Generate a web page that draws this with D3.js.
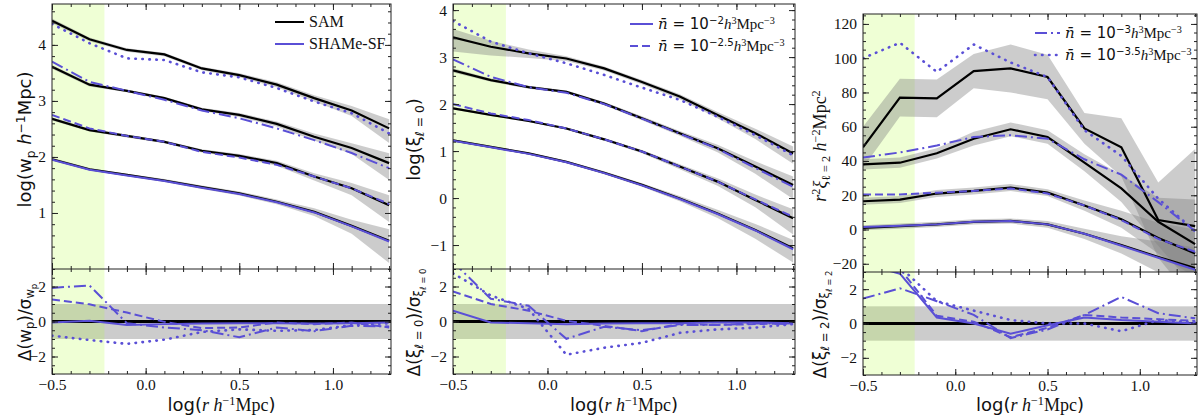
<!DOCTYPE html>
<html>
<head>
<meta charset="utf-8">
<script src="https://cdn.jsdelivr.net/npm/d3@7"></script>
<style>
  body { margin: 0; background: #fff; }
  svg text { fill: #111; }
</style>
</head>
<body>
<svg id="fig" width="1200" height="419"></svg>
<script>
// separation bins, log(r / h^-1 Mpc)
const logr = [-0.5, -0.3, -0.1, 0.1, 0.3, 0.5, 0.7, 0.9, 1.1, 1.3]
const xTicks = [-0.5, 0.0, 0.5, 1.0]
const cutR = -0.22

// rows go n=1e-2, 1e-2.5, 1e-3, 1e-3.5 (bottom curve to top curve)
const wpSam = [
	[1.96, 1.78, 1.68, 1.58, 1.46, 1.35, 1.20, 1.02, 0.77, 0.505],
	[2.68, 2.48, 2.375, 2.27, 2.11, 2.02, 1.89, 1.65, 1.44, 1.14],
	[3.61, 3.29, 3.18, 3.05, 2.85, 2.75, 2.59, 2.36, 2.16, 1.89],
	[4.43, 4.10, 3.91, 3.83, 3.58, 3.46, 3.29, 3.05, 2.83, 2.51]
]
const wpSham = [
	[1.95, 1.77, 1.67, 1.57, 1.45, 1.34, 1.19, 1.01, 0.76, 0.49],
	[2.75, 2.51, 2.375, 2.27, 2.09, 1.99, 1.86, 1.65, 1.44, 1.16],
	[3.70, 3.34, 3.18, 3.02, 2.83, 2.69, 2.51, 2.30, 2.07, 1.80],
	[4.375, 4.03, 3.76, 3.73, 3.51, 3.42, 3.23, 2.99, 2.78, 2.42]
]
// fractional error of the SAM measurement
const wpErr = [
	[0.06, 0.05, 0.05, 0.06, 0.07, 0.08, 0.10, 0.16, 0.28, 0.6],
	[0.07, 0.06, 0.06, 0.06, 0.07, 0.08, 0.10, 0.15, 0.25, 0.5],
	[0.08, 0.07, 0.06, 0.06, 0.07, 0.08, 0.10, 0.14, 0.22, 0.5],
	[0.10, 0.08, 0.07, 0.07, 0.07, 0.08, 0.10, 0.13, 0.20, 0.45]
]
const wpDev = [
	[-0.06, 0.04, -0.2, -0.15, -0.12, -0.1, -0.1, -0.12, -0.1, -0.06],
	[1.26, 0.98, 0.51, -0.02, -0.38, -0.34, -0.06, -0.15, -0.06, -0.34],
	[1.92, 2.06, -0.1, -0.34, -0.5, -0.9, -0.34, -0.55, -0.25, -0.28],
	[-0.81, -1.06, -1.28, -1.04, -0.6, -0.45, -0.53, -0.49, -0.21, -0.1]
]

const xi0Sam = [
	[1.23, 1.09, 0.95, 0.77, 0.54, 0.28, -0.01, -0.33, -0.68, -1.07],
	[1.91, 1.77, 1.64, 1.48, 1.25, 0.99, 0.67, 0.35, -0.04, -0.43],
	[2.72, 2.51, 2.36, 2.26, 2.01, 1.70, 1.38, 1.06, 0.67, 0.28],
	[3.42, 3.22, 3.08, 2.97, 2.76, 2.47, 2.16, 1.77, 1.38, 0.95]
]
const xi0Sham = [
	[1.22, 1.08, 0.94, 0.76, 0.53, 0.27, -0.02, -0.34, -0.69, -1.09],
	[2.0, 1.80, 1.66, 1.48, 1.25, 0.99, 0.67, 0.35, -0.03, -0.40],
	[2.95, 2.58, 2.36, 2.24, 2.0, 1.69, 1.37, 1.05, 0.64, 0.24],
	[3.77, 3.33, 3.08, 2.87, 2.62, 2.35, 2.09, 1.73, 1.34, 0.91]
]
const xi0Err = [
	[0.05, 0.05, 0.05, 0.06, 0.07, 0.09, 0.13, 0.2, 0.35, 0.5],
	[0.06, 0.05, 0.05, 0.06, 0.07, 0.08, 0.12, 0.18, 0.3, 0.55],
	[0.10, 0.08, 0.07, 0.07, 0.08, 0.10, 0.12, 0.18, 0.3, 0.5],
	[0.50, 0.35, 0.2, 0.12, 0.1, 0.1, 0.12, 0.15, 0.25, 0.4]
]
const xi0Dev = [
	[0.62, -0.06, -0.1, -0.15, -0.12, -0.1, -0.1, -0.05, -0.05, -0.1],
	[1.72, 1.0, 0.62, 0.04, -0.25, -0.55, -0.15, -0.2, -0.15, -0.1],
	[3.4, 1.3, 0.9, -0.99, -0.3, -0.5, -0.2, -0.2, -0.1, -0.15],
	[2.75, 1.49, 0.72, -1.9, -1.5, -1.22, -0.65, -0.45, -0.35, -0.15]
]

const xi2Sam = [
	[1, 2, 3, 4.5, 5, 3, -2.5, -9, -16, -22.5],
	[16.5, 17.5, 21, 22.5, 24.5, 21.5, 14, 6, -5, -14],
	[38, 39, 44.5, 53, 58.5, 54, 39, 24, 4.5, -8.5],
	[48, 77, 76.5, 92.5, 94, 89, 59, 48, 5.5, 2]
]
const xi2Sham = [
	[1.5, 2.2, 3, 4.5, 5, 3, -2.5, -9.5, -16.5, -23.5],
	[20.5, 20.5, 21.5, 22.5, 24, 21, 14, 5.5, -5.5, -13],
	[42, 45, 49, 54, 55, 53, 41, 32, 16, -1],
	[100, 109, 92, 108, 97.5, 89, 58, 43, 18, -1]
]
// absolute error
const xi2Err = [
	[1.5, 1.5, 1.5, 1.5, 1.5, 2, 3, 5, 9, 12],
	[2, 2, 2, 2, 2, 2, 3, 5, 9, 14],
	[3, 3, 3, 4, 4, 4, 5, 8, 14, 26],
	[12, 11, 11, 10, 14, 13, 9, 17, 22, 45]
]
const xi2Dev = [
	[3.5, 2.9, 0.35, 0.0, -0.6, -0.1, 0.35, 0.2, 0.1, 0.0],
	[3.6, 3.2, 0.45, 0.1, -0.8, -0.25, 0.5, 0.35, 0.25, 0.15],
	[1.45, 2.05, 1.3, 0.5, -0.85, -0.35, 0.5, 1.55, 0.6, 0.3],
	[3.6, 3.3, 1.3, 0.75, 0.2, 0.0, 0.0, -0.45, 0.2, 0.05]
]

const blue = "#5a4fd6"
const dashes = [null, "8,4", "12,4,2,4", "0.5,6.5"]
const widths = [2, 2, 2, 2.6]
const sans = "DejaVu Sans"
const serif = "Liberation Serif"

const svg = d3.select("#fig")

// very small mathtext: parts with sup / sub / sub2 and italic flags
function rich(text, parts, size) {
	let shift = 0
	parts.forEach(p => {
		let s = 0, k = 1
		if (p.sup) { s = -0.36; k = 0.68 }
		if (p.sub) { s = 0.2; k = 0.68 }
		if (p.sub2) { s = 0.36; k = 0.5 }
		const ts = text.append("tspan").text(p.t)
			.attr("dy", ((s - shift) * size).toFixed(2) + "px")
			.attr("font-size", (size * k) + "px")
			.attr("font-family", p.f || sans)
		if (p.it) ts.attr("font-style", "italic")
		shift = s
	})
}

let clipId = 0
function clip(x0, y0, w, h) {
	const id = "c" + (clipId++)
	svg.append("clipPath").attr("id", id).append("rect")
		.attr("x", x0).attr("y", y0).attr("width", w).attr("height", h)
	return "url(#" + id + ")"
}

function panel(cfg) {
	const x = d3.scaleLinear().domain([-0.5, 1.31]).range([cfg.left, cfg.right])
	const y = d3.scaleLinear().domain(cfg.yDom).range([cfg.mid, cfg.top])
	const yd = d3.scaleLinear().domain([-3, 3]).range([cfg.bottom, cfg.mid])
	const w = cfg.right - cfg.left

	// ---- upper axes
	const up = svg.append("g").attr("clip-path", clip(cfg.left, cfg.top, w, cfg.mid - cfg.top))
	up.append("rect")
		.attr("x", x(-0.5)).attr("y", cfg.top)
		.attr("width", x(cutR) - x(-0.5)).attr("height", cfg.mid - cfg.top)
		.attr("fill", "#adff2f").attr("fill-opacity", 0.2)

	cfg.sam.forEach((row, i) => {
		const area = d3.area()
			.x((d, j) => x(logr[j]))
			.y0((d, j) => y(cfg.lo(d, cfg.err[i][j])))
			.y1((d, j) => y(cfg.hi(d, cfg.err[i][j])))
		up.append("path").datum(row).attr("d", area)
			.attr("fill", "#808080").attr("fill-opacity", 0.4)
	})
	const line = d3.line().x((d, j) => x(logr[j])).y(d => y(d))
	cfg.sam.forEach(row => {
		up.append("path").datum(row).attr("d", line)
			.attr("fill", "none").attr("stroke", "#000").attr("stroke-width", 2.2)
	})
	cfg.sham.forEach((row, i) => {
		up.append("path").datum(row).attr("d", line)
			.attr("fill", "none").attr("stroke", blue).attr("stroke-width", widths[i])
			.attr("stroke-dasharray", dashes[i])
			.attr("stroke-linecap", i === 3 ? "round" : "butt")
	})

	// ---- lower axes
	const lo = svg.append("g").attr("clip-path", clip(cfg.left, cfg.mid, w, cfg.bottom - cfg.mid))
	lo.append("rect")
		.attr("x", cfg.left).attr("y", yd(1))
		.attr("width", w).attr("height", yd(-1) - yd(1))
		.attr("fill", "#808080").attr("fill-opacity", 0.4)
	lo.append("rect")
		.attr("x", x(-0.5)).attr("y", cfg.mid)
		.attr("width", x(cutR) - x(-0.5)).attr("height", cfg.bottom - cfg.mid)
		.attr("fill", "#adff2f").attr("fill-opacity", 0.2)
	lo.append("line")
		.attr("x1", cfg.left).attr("x2", cfg.right)
		.attr("y1", yd(0)).attr("y2", yd(0))
		.attr("stroke", "#000").attr("stroke-width", 3)
	const dline = d3.line().x((d, j) => x(logr[j])).y(d => yd(d))
	cfg.dev.forEach((row, i) => {
		lo.append("path").datum(row).attr("d", dline)
			.attr("fill", "none").attr("stroke", blue).attr("stroke-width", widths[i])
			.attr("stroke-dasharray", dashes[i])
			.attr("stroke-linecap", i === 3 ? "round" : "butt")
	})

	// ---- ticks, all inward, on every side
	const xMinor = d3.range(-0.5, 1.31, 0.1).map(v => +v.toFixed(2))
	const tickStyle = g => {
		g.select(".domain").remove()
		g.selectAll("line").attr("stroke", "#222").attr("stroke-width", 1)
		g.selectAll("text").attr("font-family", serif).attr("font-size", "15.5px").attr("fill", "#111")
	}
	const axes = [
		[cfg.top, d3.axisTop], [cfg.mid, d3.axisBottom],
		[cfg.mid, d3.axisTop], [cfg.bottom, d3.axisBottom]
	]
	axes.forEach(([yy, ax], n) => {
		svg.append("g").attr("transform", `translate(0,${yy})`)
			.call(ax(x).tickValues(xMinor).tickSize(-3).tickFormat("")).call(tickStyle)
		svg.append("g").attr("transform", `translate(0,${yy})`)
			.call(ax(x).tickValues(xTicks).tickSize(-6).tickPadding(5)
				.tickFormat(n === 3 ? d3.format(".1f") : "")).call(tickStyle)
	})
	const yAxes = [
		[y, cfg.yTicks, cfg.yMinor], [yd, [-2, 0, 2], d3.range(-3, 3.01, 0.5)]
	]
	yAxes.forEach(([sc, maj, mnr]) => {
		const mn = mnr.filter(v => v >= sc.domain()[0] && v <= sc.domain()[1])
		svg.append("g").attr("transform", `translate(${cfg.left},0)`)
			.call(d3.axisLeft(sc).tickValues(mn).tickSize(-3).tickFormat("")).call(tickStyle)
		svg.append("g").attr("transform", `translate(${cfg.left},0)`)
			.call(d3.axisLeft(sc).tickValues(maj).tickSize(-6).tickPadding(6).tickFormat(d3.format("d"))).call(tickStyle)
		svg.append("g").attr("transform", `translate(${cfg.right},0)`)
			.call(d3.axisRight(sc).tickValues(mn).tickSize(-3).tickFormat("")).call(tickStyle)
		svg.append("g").attr("transform", `translate(${cfg.right},0)`)
			.call(d3.axisRight(sc).tickValues(maj).tickSize(-6).tickFormat("")).call(tickStyle)
	})

	// frames
	svg.append("rect").attr("x", cfg.left).attr("y", cfg.top)
		.attr("width", w).attr("height", cfg.bottom - cfg.top)
		.attr("fill", "none").attr("stroke", "#222").attr("stroke-width", 1)
	svg.append("line").attr("x1", cfg.left).attr("x2", cfg.right)
		.attr("y1", cfg.mid).attr("y2", cfg.mid).attr("stroke", "#222").attr("stroke-width", 1)

	// labels
	const xl = svg.append("text").attr("x", (cfg.left + cfg.right) / 2).attr("y", 411)
		.attr("text-anchor", "middle")
	rich(xl, [
		{ t: "log(" }, { t: "r", f: serif, it: 1 }, { t: " h", f: serif, it: 1 },
		{ t: "−1", sup: 1, f: serif }, { t: "Mpc", f: serif }, { t: ")" }
	], 18)

	const yl = svg.append("text")
		.attr("transform", `translate(${cfg.labelX},${(cfg.top + cfg.mid) / 2 + 3}) rotate(-90)`)
		.attr("text-anchor", "middle")
	rich(yl, cfg.yLabel, 18)
	const dl = svg.append("text")
		.attr("transform", `translate(${cfg.labelX},${(cfg.mid + cfg.bottom) / 2 + 1}) rotate(-90)`)
		.attr("text-anchor", "middle")
	rich(dl, cfg.dLabel, 17)

	// legend
	cfg.legend.forEach((e, i) => {
		const ly = cfg.legY + i * 22
		svg.append("line")
			.attr("x1", cfg.legX).attr("x2", cfg.legX + cfg.legW)
			.attr("y1", ly).attr("y2", ly)
			.attr("stroke", e.color).attr("stroke-width", e.round ? 2.6 : 2)
			.attr("stroke-dasharray", e.dash)
			.attr("stroke-linecap", e.round ? "round" : "butt")
		const t = svg.append("text").attr("x", cfg.legX + cfg.legW + 5).attr("y", ly + 5)
		rich(t, e.parts, cfg.legFont || 16)
	})
}

const nbar = p => [
	{ t: "n\u0304", f: "DejaVu Serif", it: 1 }, { t: " = 10", f: sans },
	{ t: p, sup: 1, f: sans }, { t: "h", f: serif, it: 1 }, { t: "3", sup: 1, f: serif },
	{ t: "Mpc", f: serif }, { t: "−3", sup: 1, f: serif }
]
const logLo = (v, f) => v + Math.log10(1 - f)
const logHi = (v, f) => v + Math.log10(1 + f)

panel({
	left: 52, right: 391, top: 4, mid: 269, bottom: 374,
	yDom: [0, 4.73], yTicks: [1, 2, 3, 4], yMinor: d3.range(0, 4.8, 0.2),
	sam: wpSam, sham: wpSham, err: wpErr, dev: wpDev, lo: logLo, hi: logHi,
	labelX: 31,
	yLabel: [{ t: "log(w" }, { t: "p", sub: 1 }, { t: " h", it: 1 }, { t: "−1", sup: 1 }, { t: "Mpc)" }],
	dLabel: [{ t: "Δ(w" }, { t: "p", sub: 1 }, { t: ")/σ" }, { t: "w", sub: 1 }, { t: "p", sub2: 1 }],
	legX: 275, legY: 22, legW: 29,
	legend: [
		{ color: "#000", dash: null, parts: [{ t: "SAM", f: serif }] },
		{ color: blue, dash: null, parts: [{ t: "SHAMe-SF", f: serif }] }
	]
})

panel({
	left: 453, right: 795, top: 4, mid: 269, bottom: 374,
	yDom: [-1.51, 4.13], yTicks: [-1, 0, 1, 2, 3, 4], yMinor: d3.range(-1.6, 4.2, 0.2),
	sam: xi0Sam, sham: xi0Sham, err: xi0Err, dev: xi0Dev, lo: logLo, hi: logHi,
	labelX: 420,
	yLabel: [{ t: "log(ξ" }, { t: "ℓ = 0", sub: 1 }, { t: ")" }],
	dLabel: [{ t: "Δ(ξ" }, { t: "ℓ = 0", sub: 1 }, { t: ")/σ" }, { t: "ξ", sub: 1 }, { t: "ℓ = 0", sub2: 1 }],
	legX: 630, legY: 24, legW: 23, legFont: 15,
	legend: [
		{ color: blue, dash: null, parts: nbar("−2") },
		{ color: blue, dash: dashes[1], parts: nbar("−2.5") }
	]
})

panel({
	left: 863, right: 1197, top: 14, mid: 272, bottom: 375,
	yDom: [-24.8, 125.8], yTicks: d3.range(-20, 121, 20), yMinor: d3.range(-25, 126, 5),
	sam: xi2Sam, sham: xi2Sham, err: xi2Err, dev: xi2Dev,
	lo: (v, s) => v - s, hi: (v, s) => v + s,
	labelX: 826,
	yLabel: [
		{ t: "r", f: serif, it: 1 }, { t: "2", sup: 1, f: serif }, { t: "ξ", f: serif, it: 1 },
		{ t: "ℓ = 2", sub: 1, f: serif }, { t: " h", f: serif, it: 1 }, { t: "−2", sup: 1, f: serif },
		{ t: "Mpc", f: serif }, { t: "2", sup: 1, f: serif }
	],
	dLabel: [{ t: "Δ(ξ" }, { t: "ℓ = 2", sub: 1 }, { t: ")/σ" }, { t: "ξ", sub: 1 }, { t: "ℓ = 2", sub2: 1 }],
	legX: 1035, legY: 33, legW: 25, legFont: 15,
	legend: [
		{ color: blue, dash: dashes[2], parts: nbar("−3") },
		{ color: blue, dash: dashes[3], round: true, parts: nbar("−3.5") }
	]
})
</script>
</body>
</html>
